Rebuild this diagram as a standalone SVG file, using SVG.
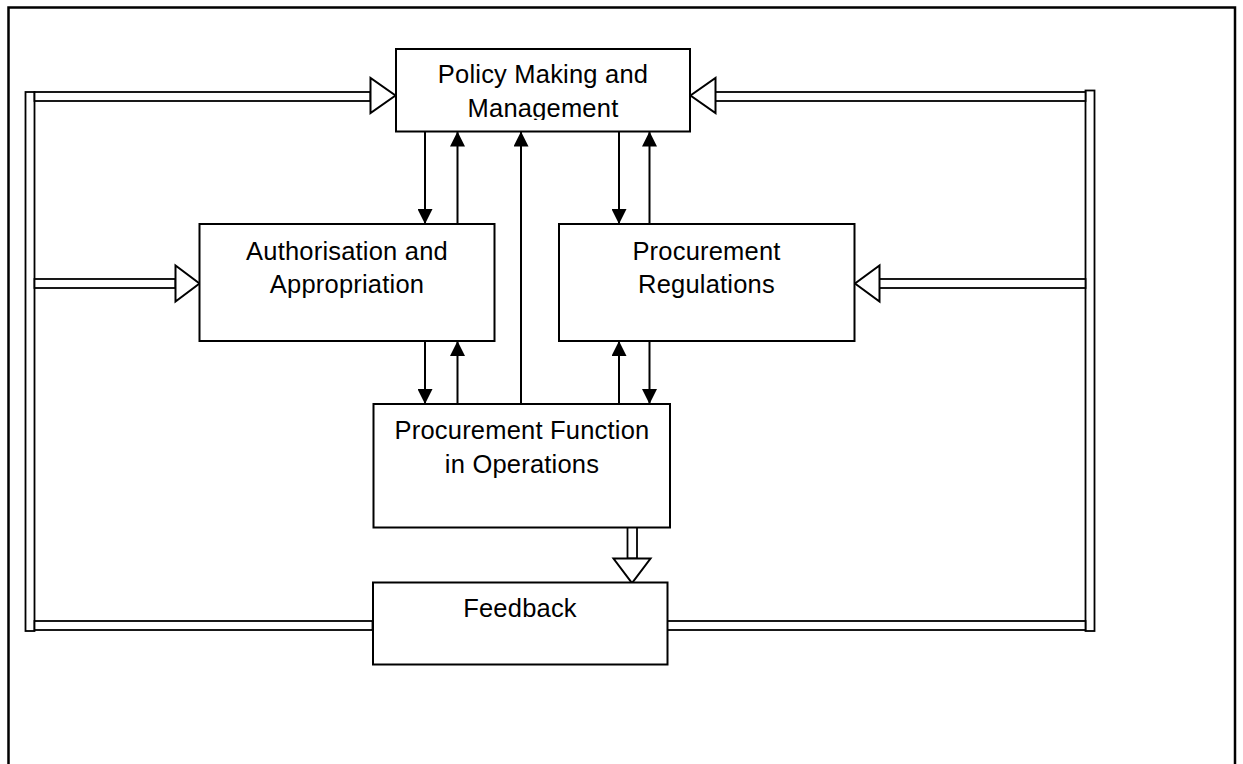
<svg xmlns="http://www.w3.org/2000/svg" width="1243" height="764" viewBox="0 0 1243 764">
  <style>
    .box { fill: #fff; stroke: #000; stroke-width: 2; }
    .label { font-family: "Liberation Sans", Arial, sans-serif; font-size: 25.5px; letter-spacing: 0.2px; fill: #000; text-anchor: middle; }
    .thin { stroke: #000; stroke-width: 2; fill: none; marker-end: url(#head); }
    .shaft { fill: #fff; stroke: #000; stroke-width: 1.8; }
    .hollow { fill: #fff; stroke: #000; stroke-width: 2; stroke-linejoin: miter; }
  </style>
  <defs>
    <marker id="head" markerUnits="userSpaceOnUse" markerWidth="15" markerHeight="15" refX="15" refY="7.5" orient="auto">
      <path d="M0,0 L15,7.5 L0,15 Z" fill="#000"/>
    </marker>
    <clipPath id="policyClip">
      <rect x="396" y="49" width="294" height="71"/>
    </clipPath>
  </defs>

  <rect width="1243" height="764" fill="#fff"/>
  <!-- outer frame -->
  <rect x="8.5" y="7.5" width="1226.5" height="800" fill="none" stroke="#000" stroke-width="2.5"/>

  <!-- connectors -->
  <g id="connectors">
    <!-- feedback loop: side rails -->
    <rect class="shaft" x="25.5" y="92" width="9" height="539"/>
    <rect class="shaft" x="1085.5" y="90.5" width="9" height="540.5"/>
    <!-- bottom rails into Feedback -->
    <rect class="shaft" x="34.5" y="621" width="338" height="9"/>
    <rect class="shaft" x="667" y="621" width="418.5" height="9"/>
    <!-- top rails into Policy -->
    <rect class="shaft" x="34.5" y="92" width="336" height="9"/>
    <polygon class="hollow" points="370.5,78 370.5,113 395.5,95.5"/>
    <rect class="shaft" x="715" y="92" width="370.5" height="9"/>
    <polygon class="hollow" points="715.5,78 715.5,113 690.5,95.5"/>
    <!-- middle rails -->
    <rect class="shaft" x="34.5" y="279" width="141" height="9"/>
    <polygon class="hollow" points="175.5,265.5 175.5,301.5 199.5,283.5"/>
    <rect class="shaft" x="879" y="279" width="206.5" height="9"/>
    <polygon class="hollow" points="879.5,265.5 879.5,301.5 855,283.5"/>
    <!-- operations to feedback -->
    <rect class="shaft" x="627.5" y="527" width="9.5" height="31.5"/>
    <polygon class="hollow" points="613.5,558.5 650.5,558.5 632,583"/>

    <!-- single-line arrows -->
    <line class="thin" x1="425" y1="131.5" x2="425" y2="224"/>
    <line class="thin" x1="457.5" y1="224" x2="457.5" y2="131.5"/>
    <line class="thin" x1="619" y1="131.5" x2="619" y2="224"/>
    <line class="thin" x1="649.5" y1="224" x2="649.5" y2="131.5"/>
    <line class="thin" x1="521" y1="404" x2="521" y2="131.5"/>
    <line class="thin" x1="425" y1="341" x2="425" y2="404"/>
    <line class="thin" x1="457.5" y1="404" x2="457.5" y2="341"/>
    <line class="thin" x1="619" y1="404" x2="619" y2="341"/>
    <line class="thin" x1="649.5" y1="341" x2="649.5" y2="404"/>
  </g>

  <g id="policy">
    <rect class="box" x="396" y="49" width="294" height="82.5"/>
    <g clip-path="url(#policyClip)">
      <text class="label" x="543" y="83">Policy Making and</text>
      <text class="label" x="543" y="116.5">Management</text>
    </g>
  </g>

  <g id="authorisation">
    <rect class="box" x="199.5" y="224" width="295" height="117"/>
    <text class="label" x="347" y="259.5">Authorisation and</text>
    <text class="label" x="347" y="292.5">Appropriation</text>
  </g>

  <g id="regulations">
    <rect class="box" x="559" y="224" width="295.5" height="117"/>
    <text class="label" x="706.5" y="259.5">Procurement</text>
    <text class="label" x="706.5" y="292.5">Regulations</text>
  </g>

  <g id="operations">
    <rect class="box" x="373.5" y="404" width="296.5" height="123.5"/>
    <text class="label" x="522" y="439">Procurement Function</text>
    <text class="label" x="522" y="472.5">in Operations</text>
  </g>

  <g id="feedback">
    <rect class="box" x="373" y="582.5" width="294.5" height="82"/>
    <text class="label" x="520" y="616.5">Feedback</text>
  </g>
</svg>
